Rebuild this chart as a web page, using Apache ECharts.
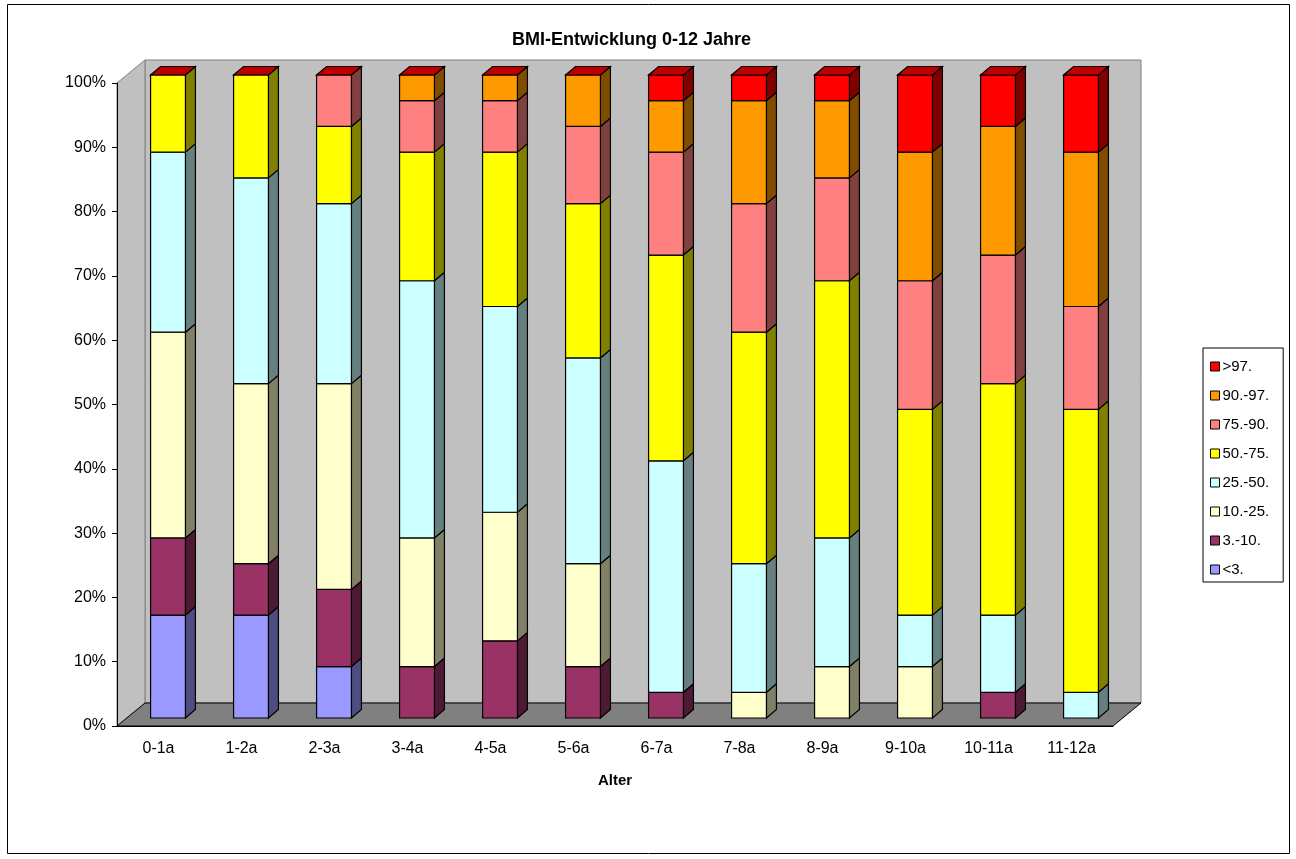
<!DOCTYPE html>
<html>
<head>
<meta charset="utf-8">
<script src="https://cdn.jsdelivr.net/npm/echarts@6/dist/echarts.min.js"></script>
<style>
  html, body { margin: 0; padding: 0; background: #fff; }
  #chart { width: 1296px; height: 859px; }
</style>
</head>
<body>
<div id="chart"></div>
<script>
// Age groups (x axis)
const categories = ['0-1a', '1-2a', '2-3a', '3-4a', '4-5a', '5-6a', '6-7a', '7-8a', '8-9a', '9-10a', '10-11a', '11-12a'];

// Share of children per BMI percentile band, in percent (stacked bottom to top)
const pLt3   = [16, 16,  8,  0,  0,  0,  0,  0,  0,  0,  0,  0];
const p3_10  = [12,  8, 12,  8, 12,  8,  4,  0,  0,  0,  4,  0];
const p10_25 = [32, 28, 32, 20, 20, 16,  0,  4,  8,  8,  0,  0];
const p25_50 = [28, 32, 28, 40, 32, 32, 36, 20, 20,  8, 12,  4];
const p50_75 = [12, 16, 12, 20, 24, 24, 32, 36, 40, 32, 36, 44];
const p75_90 = [ 0,  0,  8,  8,  8, 12, 16, 20, 16, 20, 20, 16];
const p90_97 = [ 0,  0,  0,  4,  4,  8,  8, 16, 12, 20, 20, 24];
const pGt97  = [ 0,  0,  0,  0,  0,  0,  4,  4,  4, 12,  8, 12];

const bandNames  = ['<3.', '3.-10.', '10.-25.', '25.-50.', '50.-75.', '75.-90.', '90.-97.', '>97.'];
const bandValues = [pLt3, p3_10, p10_25, p25_50, p50_75, p75_90, p90_97, pGt97];
const bandColors = ['#9999FF', '#993366', '#FFFFCC', '#CCFFFF', '#FFFF00', '#FF8080', '#FF9900', '#FF0000'];

const FONT = '"Liberation Sans", Arial, sans-serif';

// pseudo-3D geometry (pixels)
const WALL_DX = 28, WALL_DY = 23;    // depth of the walls / floor
const FRONT_DX = 9.5, FRONT_DY = 8;  // front face of the columns relative to the axis plane
const BAR_DX = 10, BAR_DY = 8.5;     // depth of each column
const BAR_RATIO = 0.42;              // column width relative to the category band

function shade(hex, f) {
  const n = parseInt(hex.slice(1), 16);
  const r = Math.round(((n >> 16) & 255) * f);
  const g = Math.round(((n >> 8) & 255) * f);
  const b = Math.round((n & 255) * f);
  return 'rgb(' + r + ',' + g + ',' + b + ')';
}

// cumulative bases for the stack
const stacks = [];
const running = categories.map(() => 0);
bandValues.forEach((vals) => {
  stacks.push(vals.map((v, i) => {
    const lo = running[i];
    running[i] += v;
    return [i, lo, lo + v];
  }));
});

const edge = { stroke: '#000', lineWidth: 1.2 };

function columnRenderer(bandIndex) {
  const color = bandColors[bandIndex];
  const isTop = bandIndex === bandValues.length - 1;
  return function (params, api) {
    const i = api.value(0), lo = api.value(1), hi = api.value(2);
    const pLo = api.coord([i, lo]);
    const pHi = api.coord([i, hi]);
    const bw = api.size([1, 0])[0] * BAR_RATIO;
    const x0 = pLo[0] - bw / 2 + FRONT_DX;
    const x1 = x0 + bw;
    const yb = pLo[1] - FRONT_DY;
    const yt = pHi[1] - FRONT_DY;
    const children = [];
    if (hi > lo) {
      children.push({
        type: 'polygon',
        shape: { points: [[x1, yb], [x1 + BAR_DX, yb - BAR_DY], [x1 + BAR_DX, yt - BAR_DY], [x1, yt]] },
        style: Object.assign({ fill: shade(color, 0.5) }, edge)
      });
      children.push({
        type: 'rect',
        shape: { x: x0, y: yt, width: bw, height: yb - yt },
        style: Object.assign({ fill: color }, edge)
      });
    }
    if (isTop) {
      children.push({
        type: 'polygon',
        shape: { points: [[x0, yt], [x1, yt], [x1 + BAR_DX, yt - BAR_DY], [x0 + BAR_DX, yt - BAR_DY]] },
        style: Object.assign({ fill: shade(color, 0.75) }, edge)
      });
    }
    return { type: 'group', children: children };
  };
}

// back wall, side wall and floor, drawn from the grid rectangle
function wallRenderer(params) {
  const cs = params.coordSys;
  const x = cs.x, y = cs.y, w = cs.width, h = cs.height;
  const line = { stroke: '#808080', lineWidth: 1 };
  return {
    type: 'group',
    children: [
      {
        type: 'rect',
        shape: { x: x + WALL_DX, y: y - WALL_DY, width: w, height: h },
        style: Object.assign({ fill: '#C0C0C0' }, line)
      },
      {
        type: 'polygon',
        shape: { points: [[x, y], [x + WALL_DX, y - WALL_DY], [x + WALL_DX, y + h - WALL_DY], [x, y + h]] },
        style: Object.assign({ fill: '#C0C0C0' }, line)
      },
      {
        type: 'polygon',
        shape: { points: [[x, y + h], [x + w, y + h], [x + w + WALL_DX, y + h - WALL_DY], [x + WALL_DX, y + h - WALL_DY]] },
        style: { fill: '#808080', stroke: '#000', lineWidth: 1 }
      }
    ]
  };
}

const series = [{
  type: 'custom',
  name: 'walls',
  silent: true,
  z: 1,
  data: [[0, 0]],
  renderItem: wallRenderer
}];
bandNames.forEach((name, s) => {
  series.push({
    type: 'custom',
    name: name,
    z: 3,
    data: stacks[s],
    encode: { x: 0, y: [1, 2] },
    itemStyle: { color: bandColors[s], borderColor: '#000', borderWidth: 1 },
    renderItem: columnRenderer(s)
  });
});

const chart = echarts.init(document.getElementById('chart'), null, { renderer: 'canvas' });
chart.setOption({
  animation: false,
  backgroundColor: '#fff',
  textStyle: { fontFamily: FONT },
  grid: { left: 117, top: 83, width: 996, height: 643 },
  xAxis: {
    type: 'category',
    data: categories,
    z: 10,
    axisLine: { lineStyle: { color: '#000', width: 1 } },
    axisTick: { length: 6, lineStyle: { color: '#000' } },
    axisLabel: { color: '#000', fontSize: 16, margin: 15, fontFamily: FONT },
    name: 'Alter',
    nameLocation: 'middle',
    nameGap: 47,
    nameTextStyle: { color: '#000', fontWeight: 'bold', fontSize: 15, fontFamily: FONT }
  },
  yAxis: {
    type: 'value',
    min: 0,
    max: 100,
    interval: 10,
    z: 10,
    axisLine: { show: true, lineStyle: { color: '#000', width: 1 } },
    axisTick: { show: true, length: 5, lineStyle: { color: '#000' } },
    splitLine: { show: false },
    axisLabel: { color: '#000', fontSize: 16, margin: 11, formatter: '{value}%', fontFamily: FONT }
  },
  legend: {
    data: bandNames.slice().reverse(),
    orient: 'vertical',
    left: 1203,
    top: 348,
    padding: [11, 14, 5, 7],
    itemWidth: 9,
    itemHeight: 9,
    itemGap: 14,
    icon: 'rect',
    borderColor: '#000',
    borderWidth: 1,
    borderRadius: 0,
    itemStyle: { borderColor: '#000', borderWidth: 1 },
    textStyle: { color: '#000', fontSize: 15, fontFamily: FONT, padding: [0, 0, 0, -2] }
  },
  graphic: [
    {
      type: 'rect',
      z: 0,
      silent: true,
      shape: { x: 7.5, y: 4.5, width: 1282, height: 849 },
      style: { fill: null, stroke: '#000', lineWidth: 1 }
    },
    {
      type: 'text',
      left: 512,
      top: 31,
      silent: true,
      style: {
        text: 'BMI-Entwicklung 0-12 Jahre',
        font: 'bold 18px ' + FONT,
        fill: '#000'
      }
    }
  ],
  series: series
});
</script>
</body>
</html>
